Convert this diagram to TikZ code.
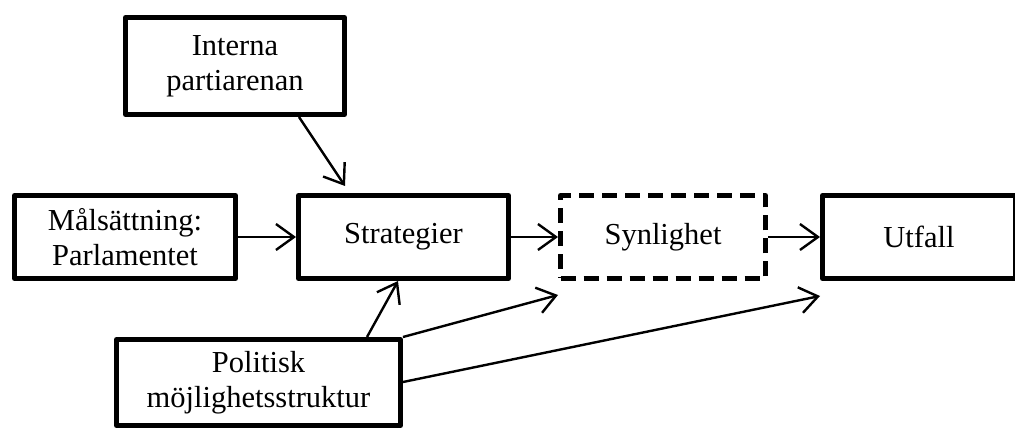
\documentclass[tikz,border=0pt]{standalone}
\usepackage{fontspec}
\setmainfont{Liberation Serif}
\usetikzlibrary{arrows.meta,calc}
\begin{document}
\begin{tikzpicture}[x=1pt,y=-1pt,
  box/.style={draw, line width=5pt, line join=round, font=\fontsize{30.5}{35}\selectfont, align=center, inner sep=0pt},
  dbox/.style={box, dash pattern=on 15pt off 8pt},
  arr/.style={-{Straight Barb[length=18pt,width=26pt]}, line width=2.4pt}]
\useasboundingbox (0,0) rectangle (1015,430);
\node[box, minimum width=219pt, minimum height=97pt] (I) at (235,66) {Interna\\partiarenan};
\node[box, minimum width=221pt, minimum height=83pt] (M) at (125,237) {Målsättning:\\Parlamentet};
\node[box, minimum width=210pt, minimum height=83pt] (S) at (403.5,237) {Strategier};
\node[dbox, minimum width=205pt, minimum height=83pt] (Sy) at (663,237) {Synlighet};
\node[box, minimum width=193pt, minimum height=83pt] (U) at (919,237) {Utfall};
\node[box, minimum width=284pt, minimum height=86pt] (P) at (258.5,382.5) {Politisk\\möjlighetsstruktur};
\draw[arr] ($(I.south west)+(176,0)$) -- ($(S.north west)+(49,-7)$);
\draw[arr] (M.east) -- (S.west);
\draw[arr] (S.east) -- (Sy.west);
\draw[arr] (Sy.east) -- (U.west);
\draw[arr] ($(P.north west)+(253,0)$) -- ($(S.south west)+(102,0)$);
\draw[arr] (P.north east) -- ($(Sy.south west)+(0,14)$);
\draw[arr] ($(P.north east)+(0,45)$) -- ($(U.south west)+(0,15)$);
\end{tikzpicture}
\end{document}
